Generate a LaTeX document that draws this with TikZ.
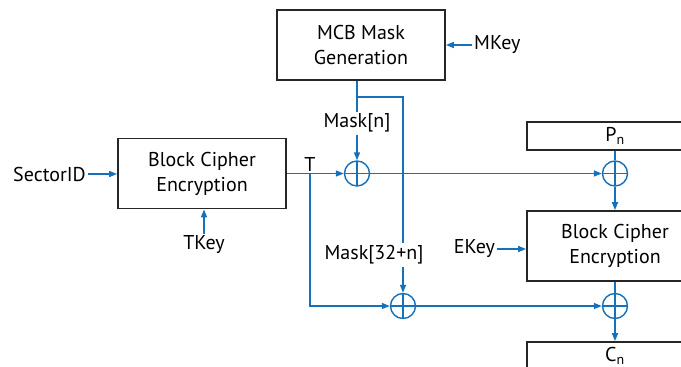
\documentclass[tikz,border=0pt]{standalone}
\usepackage{amsmath}
\usepackage{fontspec}
\setmainfont{PT Sans}
\usepackage{tikz}
\usetikzlibrary{arrows.meta, positioning, calc}
\definecolor{wireblue}{RGB}{22,112,186}

\begin{document}
\begin{tikzpicture}[
    x=1pt, y=-1pt,
    block/.style={rectangle, draw=black!85, line width=1.8pt, minimum width=168pt, minimum height=70pt, align=center, inner sep=0pt, font=\fontsize{20}{25}\selectfont},
    txt/.style={inner sep=2pt, font=\fontsize{20}{22}\selectfont},
    xorsym/.style={circle, draw=wireblue, line width=1.4pt, minimum size=25pt, inner sep=0pt,
        path picture={\draw[wireblue, line width=1.4pt]
            (path picture bounding box.north) -- (path picture bounding box.south)
            (path picture bounding box.west) -- (path picture bounding box.east);}},
    wire/.style={draw=wireblue, line width=1.5pt},
    arrow/.style={wire, -{Triangle[length=8pt, width=6pt]}}
]
\useasboundingbox (0,0) rectangle (681,367);
\clip (0,0) rectangle (681,367);

% Blocks
\node[block] (mcb) at (361,45) {MCB Mask\\Generation};
\node[block] (encT) at (202,173.5) {Block Cipher\\Encryption};
\node[block, minimum width=176pt] (encE) at (615,246) {Block Cipher\\Encryption};
\node[block, minimum width=176pt, minimum height=28pt] (pn) at (615,136) {P$_{\text{n}}$};
\node[block, minimum width=176pt, minimum height=28pt] (cn) at (615,356) {C$_{\text{n}}$};

% XOR gates
\node[xorsym] (x1) at (357,173.5) {};
\node[xorsym] (x2) at (615,173.5) {};
\node[xorsym] (x3) at (403,306) {};
\node[xorsym] (x4) at (615,306) {};

% Inputs and labels
\node[txt, anchor=east] (sector) at (88,174) {SectorID};
\node[txt] (tkey) at (204,245) {TKey};
\node[txt, anchor=west] (mkey) at (472,45) {MKey};
\node[txt, anchor=east] (ekey) at (497,249) {EKey};
\node[txt] (maskn) at (357,123) {Mask[n]};
\node[txt] (mask32) at (374,255) {Mask[32+n]};
\coordinate (tsplit) at (310,173.5);
\coordinate (mbr) at (357,97);
\node[txt, above=0pt of tsplit] (tlab) {T};

% Wires
\draw[arrow] (sector) -- (sector -| encT.west);
\draw[arrow] (tkey) -- (tkey |- encT.south);
\draw[arrow] (mkey) -- (mkey -| mcb.east);
\draw[arrow] (ekey) -- (ekey -| encE.west);
\draw[wire] (mcb.south -| maskn) -- (maskn);
\draw[arrow] (maskn) -- (x1);
\draw[wire] (mbr) -| (mask32.north -| x3);
\draw[arrow] (mask32.south -| x3) -- (x3);
\draw[arrow] (encT.east |- x1) -- (x1);
\draw[arrow] (tsplit) |- (x3);
\draw[arrow] (x1) -- (x2);
\draw[wire] (pn) -- (x2);
\draw[arrow] (x2) -- (encE);
\draw[wire] (encE) -- (x4);
\draw[arrow] (x3) -- (x4);
\draw[arrow] (x4) -- (cn);

\end{tikzpicture}
\end{document}
